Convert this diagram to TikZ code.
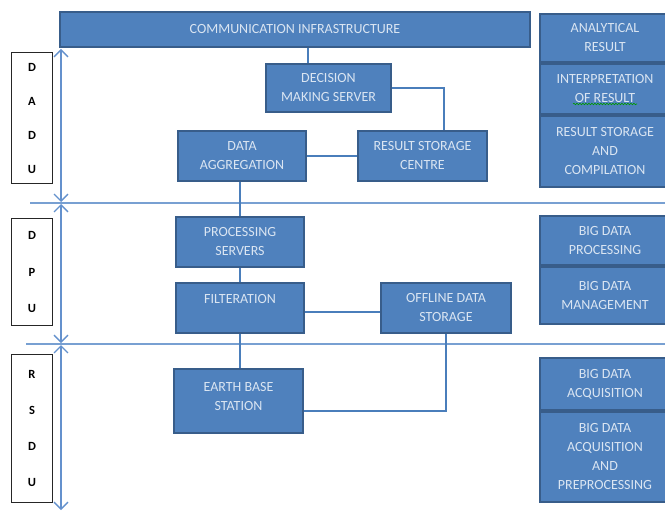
\documentclass[tikz,border=0pt]{standalone}
\usepackage{fontspec}
\setmainfont{Carlito}
\usetikzlibrary{arrows.meta,decorations.pathmorphing}
\definecolor{boxfill}{RGB}{79,129,189}
\definecolor{boxdraw}{RGB}{56,93,138}
\definecolor{boxtext}{RGB}{218,229,242}
\definecolor{linkc}{RGB}{74,126,187}
\definecolor{arrowc}{RGB}{100,145,205}
\definecolor{sepc}{RGB}{120,160,210}
\begin{document}
\begin{tikzpicture}[x=1pt,y=-1pt,
  box/.style={draw=boxdraw, fill=boxfill, line width=2pt, text=boxtext,
    font=\fontsize{14}{19}\selectfont, align=center, inner sep=0pt},
  lbl/.style={draw=black!85, line width=1pt, fill=white, align=center, inner sep=0pt, minimum width=41pt},
  link/.style={draw=linkc, line width=1.2pt},
  span/.style={draw=arrowc, line width=1.3pt,
    {Straight Barb[length=7pt,width=14pt]}-{Straight Barb[length=7pt,width=14pt]}},
  sepline/.style={draw=sepc, line width=1.5pt}]
\useasboundingbox (0,0) rectangle (665,511);
\clip (0,0) rectangle (665,511);

% separators
\coordinate (s1a) at (30,203);  \coordinate (s1b) at (665,203);
\coordinate (s2a) at (26,344);  \coordinate (s2b) at (665,344);
\draw[sepline] (s1a) -- (s1b);
\draw[sepline] (s2a) -- (s2b);

% span arrows
\coordinate (a1t) at (61,49);  \coordinate (a1b) at (61,202);
\coordinate (a2t) at (61,204); \coordinate (a2b) at (61,343);
\coordinate (a3t) at (61,345); \coordinate (a3b) at (61,510);
\draw[span] (a1t) -- (a1b);
\draw[span] (a2t) -- (a2b);
\draw[span] (a3t) -- (a3b);

% layer labels
\node[lbl, minimum height=131pt, font=\fontsize{12.5}{34}\selectfont\bfseries] (dadu) at (32,118) {D\\A\\D\\U};
\node[lbl, minimum height=107pt, font=\fontsize{12.5}{36.5}\selectfont\bfseries] (dpu) at (32,272) {D\\P\\U};
\node[lbl, minimum height=148pt, font=\fontsize{12.5}{36}\selectfont\bfseries] (rsdu) at (32,428.5) {R\\S\\D\\U};

% main boxes
\node[box, minimum width=470pt, minimum height=35pt] (comm) at (295,29.5) {COMMUNICATION INFRASTRUCTURE};
\node[box, minimum width=125pt, minimum height=48pt] (dec) at (328.5,88) {DECISION\\MAKING SERVER};
\node[box, minimum width=128pt, minimum height=50pt] (dagg) at (242,156) {DATA\\AGGREGATION};
\node[box, minimum width=129pt, minimum height=50pt] (rsc) at (422.5,156) {RESULT STORAGE\\CENTRE};
\node[box, minimum width=128pt, minimum height=50pt] (proc) at (240,242) {PROCESSING\\SERVERS};
\node[box, minimum width=128pt, minimum height=50pt] (filt) at (240,308) {FILTERATION\\\mbox{}};
\node[box, minimum width=130pt, minimum height=50pt] (off) at (446,308) {OFFLINE DATA\\STORAGE};
\node[box, minimum width=129pt, minimum height=64pt] (earth) at (238.5,401) {EARTH BASE\\STATION\\[-9pt]\mbox{}};

% right column
\node[box, minimum width=130pt, minimum height=48pt] (ar) at (605,38) {ANALYTICAL\\RESULT};
\node[box, minimum width=130pt, minimum height=50pt] (ir) at (605,89) {INTERPRETATION\\OF RESULT};
\node[box, minimum width=130pt, minimum height=71pt] (rs) at (605,151.5) {RESULT STORAGE\\AND\\COMPILATION};
\node[box, minimum width=130pt, minimum height=49pt] (bdp) at (605,240.5) {BIG DATA\\PROCESSING};
\node[box, minimum width=130pt, minimum height=57pt] (bdm) at (605,295.5) {BIG DATA\\MANAGEMENT};
\node[box, minimum width=130pt, minimum height=52pt] (bda) at (605,384) {BIG DATA\\ACQUISITION};
\node[box, minimum width=130pt, minimum height=90pt] (bdap) at (605,457) {BIG DATA\\ACQUISITION\\AND\\PREPROCESSING};

% spell-check underline
\draw[green!60!black, line width=0.6pt, decorate,
  decoration={snake, amplitude=0.8pt, segment length=3pt}]
  ([xshift=-32pt,yshift=-15pt]ir.center) -- ([xshift=32pt,yshift=-15pt]ir.center);

% connectors
\draw[link] ([xshift=-20.5pt]dec.north) -- ([xshift=-20.5pt]dec.north |- comm.south);
\draw[link] (dec.east) -| ([xshift=21.5pt]rsc.north);
\draw[link] (dagg.east) -- (rsc.west);
\draw[link] (proc.north |- dagg.south) -- (proc.north);
\draw[link] (proc.south) -- (filt.north);
\draw[link] ([yshift=-4pt]filt.east) -- ([yshift=-4pt]off.west);
\draw[link] (filt.south) -- (filt.south |- earth.north);
\draw[link] (off.south) |- ([yshift=-10pt]earth.east);
\end{tikzpicture}
\end{document}
